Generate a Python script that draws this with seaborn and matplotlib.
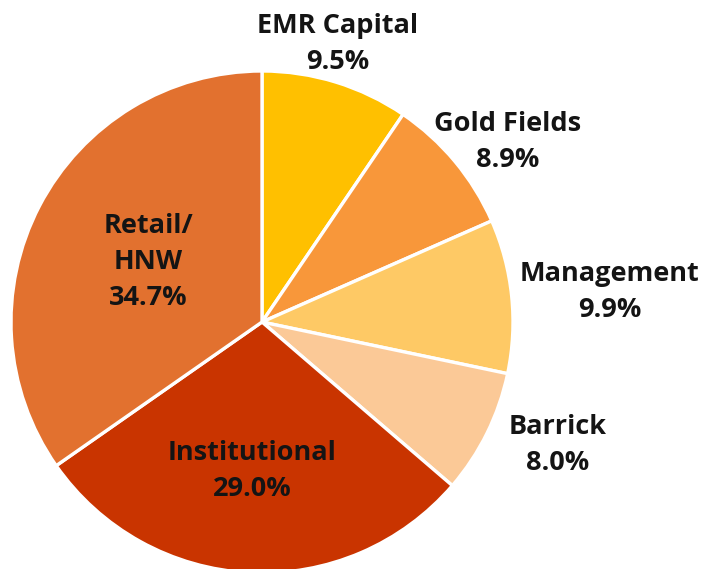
import matplotlib
matplotlib.use("Agg")
import matplotlib.pyplot as plt
import seaborn as sns

# ---- Data ----
holders = ["EMR Capital", "Gold Fields", "Management", "Barrick", "Institutional", "Retail/\nHNW"]
shares = [9.5, 8.9, 9.9, 8.0, 29.0, 34.7]
colors = ["#FFC000", "#F8973A", "#FEC965", "#FBC997", "#C93400", "#E2712F"]

sns.set_theme(style="white")
plt.rcParams["font.family"] = ["Open Sans", "DejaVu Sans"]

W, H = 703, 569
cx, cy, R = 262, 322, 251  # pie centre / radius in pixels

fig = plt.figure(figsize=(W / 100, H / 100), dpi=100)
ax = fig.add_axes([0, 0, 1, 1])

wedges, _ = ax.pie(shares, colors=colors, startangle=90, counterclock=False,
                   wedgeprops=dict(edgecolor="white", linewidth=2.4))
ax.set_xlim(-cx / R, (W - cx) / R)
ax.set_ylim(-(H - cy) / R, cy / R)
ax.set_aspect("equal")
ax.axis("off")

# label anchor points (pixel positions of the label centres)
label_px = [(338, 44), (508, 142), (610, 292), (558, 445), (252, 471), (148, 262)]
for name, val, (px, py) in zip(holders, shares, label_px):
    x = (px - cx) / R
    y = (cy - py) / R
    ax.text(x, y, f"{name}\n{val:.1f}%", ha="center", va="center",
            fontsize=19.5, fontweight="bold", color="#141414", linespacing=1.48)

fig.savefig("out.png", dpi=100, facecolor="white")
